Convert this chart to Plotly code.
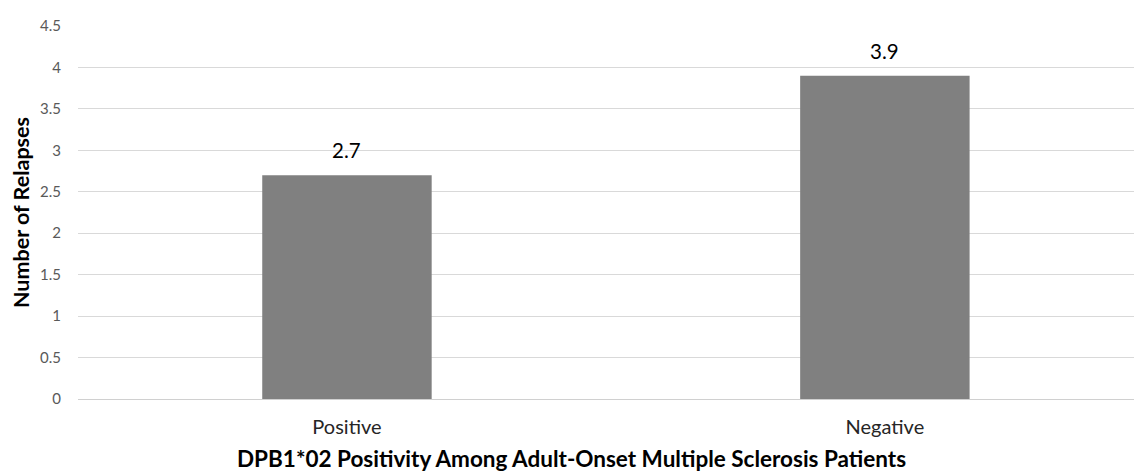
import plotly.graph_objects as go

categories = ["Positive", "Negative"]
values = [2.7, 3.9]
value_labels = ["2.7", "3.9"]
y_ticks = [0, 0.5, 1, 1.5, 2, 2.5, 3, 3.5, 4, 4.5]
y_tick_labels = ["0", "0.5", "1", "1.5", "2", "2.5", "3", "3.5", "4", "4.5"]
x_title = "DPB1*02 Positivity Among Adult-Onset Multiple Sclerosis Patients"
y_title = "Number of Relapses"

FONT = "Lato, Open Sans, sans-serif"

fig = go.Figure(go.Bar(
    x=categories, y=values,
    marker=dict(color="#808080", line=dict(color="#808080", width=0)),
    width=0.315,
))

for c, v, t in zip(categories, values, value_labels):
    fig.add_annotation(x=c, y=v, text=t, showarrow=False, yanchor="bottom", yshift=11,
                       font=dict(family=FONT, size=20.5, color="#000000"))

# x-axis title centred on the whole figure (as in the reference)
fig.add_annotation(xref="paper", yref="paper", x=0.464, y=0, yanchor="middle",
                   yshift=-59, text="<b>" + x_title + "</b>", showarrow=False,
                   font=dict(family=FONT, size=22.5, color="#000000"))

fig.update_layout(
    width=1142, height=472,
    margin=dict(l=68, r=8, t=13, b=81),
    plot_bgcolor="white", paper_bgcolor="white",
    showlegend=False,
    font=dict(family=FONT),
    xaxis=dict(
        range=[-0.5, 1.478],
        showgrid=False, showline=False, zeroline=False,
        ticks="", tickfont=dict(family=FONT, size=20, color="#262626"),
        ticklabelstandoff=14,
    ),
    yaxis=dict(
        range=[0, 4.5], tickvals=y_ticks, ticktext=y_tick_labels,
        showgrid=True, gridcolor="#d9d9d9", gridwidth=1,
        zeroline=True, zerolinecolor="#d0d0d0", zerolinewidth=1,
        showline=False, ticks="",
        tickfont=dict(family=FONT, size=15, color="#595959"),
        ticklabelstandoff=16,
        title=dict(text="<b>" + y_title + "</b>",
                   font=dict(family=FONT, size=21.5, color="#000000"), standoff=9),
    ),
)

fig.write_html("out.html")
